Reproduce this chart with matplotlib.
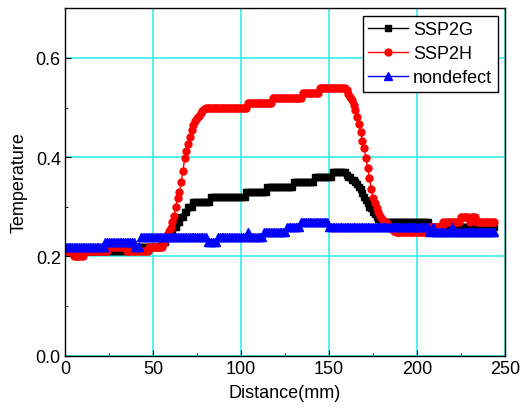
import numpy as np
import matplotlib
matplotlib.use("Agg")
import matplotlib.pyplot as plt
from matplotlib.ticker import MultipleLocator, FormatStrFormatter

plt.rcParams['font.family'] = ['Liberation Sans', 'DejaVu Sans']

# distance along the scan, one sample per mm
distance = list(range(0, 245))

ssp2g = [
    0.21, 0.21, 0.21, 0.21, 0.21, 0.21, 0.21, 0.21, 0.21, 0.21,
    0.21, 0.21, 0.21, 0.21, 0.21, 0.21, 0.21, 0.21, 0.21, 0.21,
    0.21, 0.21, 0.21, 0.21, 0.21, 0.21, 0.21, 0.21, 0.21, 0.21,
    0.21, 0.21, 0.21, 0.21, 0.21, 0.21, 0.22, 0.22, 0.22, 0.22,
    0.22, 0.22, 0.22, 0.22, 0.22, 0.22, 0.22, 0.22, 0.22, 0.22,
    0.22, 0.22, 0.22, 0.22, 0.22, 0.225, 0.23, 0.23, 0.24, 0.24,
    0.25, 0.25, 0.26, 0.26, 0.27, 0.27, 0.28, 0.28, 0.29, 0.29,
    0.30, 0.30, 0.30, 0.31, 0.31, 0.31, 0.31, 0.31, 0.31, 0.31,
    0.31, 0.31, 0.31, 0.32, 0.32, 0.32, 0.32, 0.32, 0.32, 0.32,
    0.32, 0.32, 0.32, 0.32, 0.32, 0.32, 0.32, 0.32, 0.32, 0.32,
    0.32, 0.32, 0.32, 0.33, 0.33, 0.33, 0.33, 0.33, 0.33, 0.33,
    0.33, 0.33, 0.33, 0.33, 0.33, 0.34, 0.34, 0.34, 0.34, 0.34,
    0.34, 0.34, 0.34, 0.34, 0.34, 0.34, 0.34, 0.34, 0.34, 0.34,
    0.35, 0.35, 0.35, 0.35, 0.35, 0.35, 0.35, 0.35, 0.35, 0.35,
    0.35, 0.35, 0.36, 0.36, 0.36, 0.36, 0.36, 0.36, 0.36, 0.36,
    0.36, 0.36, 0.37, 0.37, 0.37, 0.37, 0.37, 0.37, 0.37, 0.37,
    0.365, 0.36, 0.36, 0.355, 0.355, 0.35, 0.345, 0.34, 0.335, 0.328,
    0.32, 0.313, 0.307, 0.30, 0.297, 0.29, 0.286, 0.28, 0.276, 0.272,
    0.27, 0.27, 0.27, 0.27, 0.27, 0.27, 0.27, 0.27, 0.27, 0.27,
    0.27, 0.27, 0.27, 0.27, 0.27, 0.27, 0.27, 0.27, 0.27, 0.27,
    0.27, 0.27, 0.27, 0.27, 0.27, 0.27, 0.27, 0.26, 0.26, 0.26,
    0.26, 0.26, 0.26, 0.26, 0.26, 0.26, 0.26, 0.26, 0.26, 0.26,
    0.26, 0.26, 0.26, 0.26, 0.26, 0.26, 0.26, 0.26, 0.26, 0.26,
    0.26, 0.26, 0.26, 0.26, 0.26, 0.26, 0.26, 0.26, 0.26, 0.26,
    0.26, 0.26, 0.26, 0.26, 0.26,
]

ssp2h = [
    0.21, 0.21, 0.21, 0.21, 0.21, 0.20, 0.20, 0.20, 0.20, 0.20,
    0.20, 0.21, 0.21, 0.21, 0.21, 0.21, 0.21, 0.21, 0.21, 0.21,
    0.21, 0.21, 0.21, 0.21, 0.21, 0.22, 0.22, 0.22, 0.22, 0.22,
    0.22, 0.22, 0.22, 0.22, 0.22, 0.21, 0.21, 0.21, 0.21, 0.21,
    0.21, 0.21, 0.21, 0.21, 0.21, 0.21, 0.21, 0.21, 0.22, 0.22,
    0.22, 0.22, 0.22, 0.22, 0.22, 0.22, 0.23, 0.235, 0.243, 0.252,
    0.258, 0.27, 0.282, 0.30, 0.318, 0.33, 0.35, 0.372, 0.398, 0.412,
    0.426, 0.44, 0.455, 0.465, 0.472, 0.478, 0.484, 0.489, 0.494, 0.498,
    0.50, 0.50, 0.50, 0.50, 0.50, 0.50, 0.50, 0.50, 0.50, 0.50,
    0.50, 0.50, 0.50, 0.50, 0.50, 0.50, 0.50, 0.50, 0.50, 0.50,
    0.50, 0.50, 0.50, 0.50, 0.51, 0.51, 0.51, 0.51, 0.51, 0.51,
    0.51, 0.51, 0.51, 0.51, 0.51, 0.51, 0.51, 0.51, 0.52, 0.52,
    0.52, 0.52, 0.52, 0.52, 0.52, 0.52, 0.52, 0.52, 0.52, 0.52,
    0.52, 0.52, 0.52, 0.52, 0.52, 0.53, 0.53, 0.53, 0.53, 0.53,
    0.53, 0.53, 0.53, 0.53, 0.53, 0.54, 0.54, 0.54, 0.54, 0.54,
    0.54, 0.54, 0.54, 0.54, 0.54, 0.54, 0.54, 0.54, 0.54, 0.54,
    0.535, 0.528, 0.522, 0.515, 0.505, 0.495, 0.482, 0.467, 0.45, 0.433,
    0.418, 0.398, 0.378, 0.358, 0.335, 0.318, 0.308, 0.298, 0.289, 0.281,
    0.275, 0.272, 0.27, 0.268, 0.262, 0.258, 0.255, 0.252, 0.25, 0.25,
    0.25, 0.25, 0.25, 0.25, 0.25, 0.25, 0.25, 0.25, 0.25, 0.25,
    0.25, 0.25, 0.25, 0.25, 0.25, 0.25, 0.25, 0.26, 0.26, 0.26,
    0.26, 0.26, 0.26, 0.26, 0.26, 0.27, 0.27, 0.27, 0.27, 0.27,
    0.27, 0.27, 0.27, 0.27, 0.27, 0.28, 0.28, 0.28, 0.28, 0.28,
    0.27, 0.28, 0.28, 0.28, 0.27, 0.27, 0.27, 0.27, 0.27, 0.27,
    0.27, 0.27, 0.27, 0.27, 0.27,
]

nondefect = [
    0.22, 0.22, 0.22, 0.22, 0.22, 0.22, 0.22, 0.22, 0.22, 0.22,
    0.22, 0.22, 0.22, 0.22, 0.22, 0.22, 0.22, 0.22, 0.22, 0.22,
    0.22, 0.22, 0.22, 0.23, 0.23, 0.23, 0.23, 0.23, 0.23, 0.23,
    0.23, 0.23, 0.23, 0.23, 0.23, 0.23, 0.23, 0.23, 0.23, 0.23,
    0.22, 0.22, 0.22, 0.24, 0.24, 0.24, 0.24, 0.24, 0.24, 0.24,
    0.24, 0.24, 0.24, 0.24, 0.24, 0.24, 0.24, 0.24, 0.24, 0.24,
    0.24, 0.24, 0.24, 0.24, 0.24, 0.24, 0.24, 0.24, 0.24, 0.24,
    0.24, 0.24, 0.24, 0.24, 0.24, 0.24, 0.24, 0.24, 0.24, 0.24,
    0.24, 0.23, 0.23, 0.23, 0.23, 0.23, 0.23, 0.24, 0.24, 0.24,
    0.24, 0.24, 0.24, 0.24, 0.24, 0.24, 0.24, 0.24, 0.24, 0.24,
    0.24, 0.24, 0.24, 0.24, 0.25, 0.24, 0.24, 0.24, 0.24, 0.24,
    0.24, 0.24, 0.24, 0.25, 0.25, 0.25, 0.25, 0.25, 0.25, 0.25,
    0.25, 0.25, 0.25, 0.25, 0.25, 0.25, 0.26, 0.26, 0.26, 0.26,
    0.26, 0.26, 0.26, 0.26, 0.27, 0.27, 0.27, 0.27, 0.27, 0.27,
    0.27, 0.27, 0.27, 0.27, 0.27, 0.27, 0.27, 0.27, 0.27, 0.27,
    0.26, 0.26, 0.26, 0.26, 0.26, 0.26, 0.26, 0.26, 0.26, 0.26,
    0.26, 0.26, 0.26, 0.26, 0.26, 0.26, 0.26, 0.26, 0.26, 0.26,
    0.26, 0.26, 0.26, 0.26, 0.26, 0.26, 0.26, 0.26, 0.26, 0.26,
    0.26, 0.26, 0.26, 0.26, 0.26, 0.26, 0.26, 0.26, 0.26, 0.26,
    0.26, 0.26, 0.26, 0.26, 0.26, 0.26, 0.26, 0.26, 0.26, 0.26,
    0.26, 0.26, 0.26, 0.26, 0.26, 0.26, 0.26, 0.25, 0.25, 0.26,
    0.25, 0.25, 0.25, 0.25, 0.25, 0.25, 0.25, 0.25, 0.25, 0.25,
    0.26, 0.25, 0.25, 0.25, 0.25, 0.25, 0.25, 0.25, 0.25, 0.25,
    0.25, 0.25, 0.25, 0.25, 0.25, 0.25, 0.25, 0.25, 0.25, 0.25,
    0.25, 0.25, 0.25, 0.25, 0.25,
]

fig = plt.figure(figsize=(5.21, 4.14), dpi=100)
ax = fig.add_axes([0.1248, 0.1384, 0.8445, 0.8391])

ax.plot(distance, ssp2g, color='black', lw=1, marker='s', ms=4.5,
        markeredgecolor='black', label='SSP2G')
ax.plot(distance, ssp2h, color='red', lw=1, marker='o', ms=5,
        markeredgecolor='red', label='SSP2H')
ax.plot(distance, nondefect, color='blue', lw=1, marker='^', ms=6,
        markeredgecolor='blue', label='nondefect')

ax.set_xlim(0, 250)
ax.set_ylim(0, 0.7)
ax.xaxis.set_major_locator(MultipleLocator(50))
ax.xaxis.set_minor_locator(MultipleLocator(25))
ax.yaxis.set_major_locator(MultipleLocator(0.2))
ax.yaxis.set_minor_locator(MultipleLocator(0.1))
ax.yaxis.set_major_formatter(FormatStrFormatter('%.1f'))

ax.grid(True, which='major', color='#33EEEE', lw=1.2)
ax.set_axisbelow(True)
ax.tick_params(which='both', direction='in', labelsize=13,
               top=False, right=False)
ax.tick_params(which='major', length=4, pad=3)
ax.tick_params(which='minor', length=2.5)
for s in ax.spines.values():
    s.set_linewidth(1)

ax.set_xlabel('Distance(mm)', fontsize=13, labelpad=5)
ax.set_ylabel('Temperature', fontsize=13, labelpad=6)

leg = ax.legend(loc='upper right', fontsize=13, fancybox=False,
                edgecolor='black', framealpha=1, borderaxespad=0.4,
                handlelength=2.2, borderpad=0.3, handletextpad=0.3,
                labelspacing=0.4)
leg.get_frame().set_linewidth(1)

fig.savefig('out.png', dpi=100)
